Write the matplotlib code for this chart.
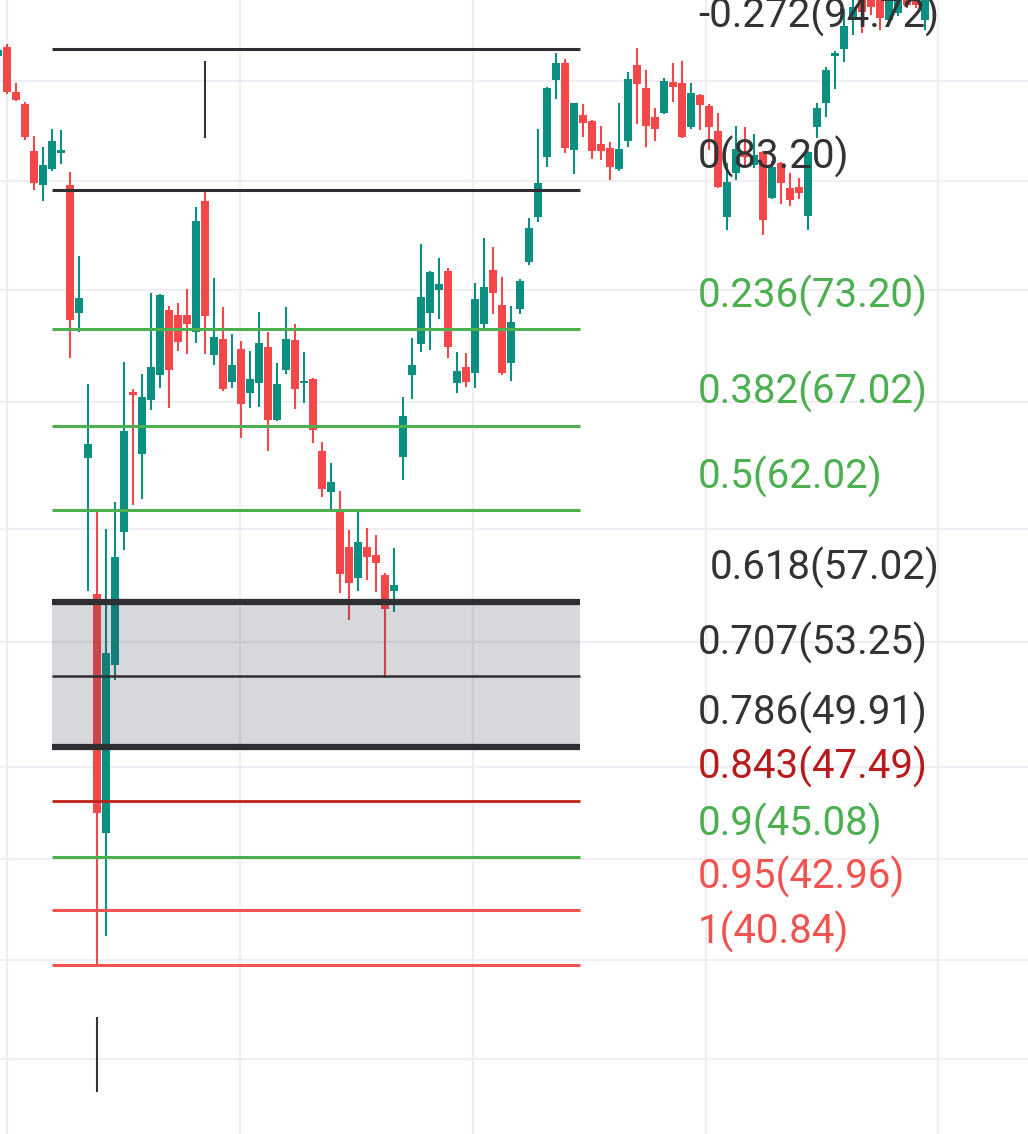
import matplotlib
matplotlib.use("Agg")
import matplotlib.pyplot as plt
from matplotlib.ticker import NullLocator, FixedLocator

# ---------------- data ----------------
opens = [94.1, 94.9, 91.0, 90.0, 86.2, 83.6, 84.8, 86.1, 83.6, 74.3,
         65.05, 57.4, 46.1, 53.8, 60.8, 69.1, 65.3, 68.6, 70.2, 74.5,
         74.2, 74.2, 73.0, 82.4, 71.5, 72.55, 69.75, 71.9, 69.05, 69.7,
         72.0, 67.35, 70.5, 72.5, 69.7, 69.95, 65.5, 63.05, 62.1, 59.95,
         58.25, 59.95, 59.5, 58.4, 57.6, 65.1, 70.2, 72.2, 74.3, 75.9,
         77.25, 69.7, 70.7, 70.35, 73.55, 77.3, 74.85, 71.0, 74.6, 77.9,
         81.15, 85.75, 92.05, 93.5, 86.3, 89.15, 88.65, 86.8, 86.45, 84.8,
         87.05, 93.3, 91.35, 89.0, 89.3, 91.9, 91.8, 88.15, 90.8, 89.9,
         87.85, 81.15, 84.5, 86.15, 85.1, 86.15, 82.6, 85.3, 83.35, 83.45,
         81.25, 88.15, 90.1, 94.1, 94.7, 97.55, 99.8, 99.6, 99.9, 97.25,
         97.9, 100.2, 100.1, 97.25]
highs = [95.1, 95.1, 91.8, 90.2, 87.4, 86.55, 88.0, 87.9, 84.6, 78.3,
         69.6, 62.1, 60.95, 62.5, 71.05, 69.3, 70.3, 75.7, 75.6, 74.8,
         75.0, 76.0, 81.9, 83.05, 76.75, 74.7, 72.9, 72.4, 71.8, 74.4,
         73.0, 71.0, 74.7, 73.55, 71.7, 70.0, 66.0, 64.75, 63.1, 60.9,
         61.9, 61.0, 60.6, 58.55, 59.9, 68.8, 72.6, 79.2, 77.25, 78.15,
         77.45, 71.7, 71.65, 76.4, 79.6, 78.95, 76.8, 74.8, 76.65, 81.1,
         88.0, 91.45, 94.35, 93.85, 90.15, 90.05, 88.75, 88.25, 86.95, 90.1,
         92.7, 94.8, 92.9, 89.7, 92.2, 93.5, 93.65, 91.8, 90.85, 90.0,
         89.3, 85.3, 88.25, 88.15, 87.6, 86.25, 85.45, 85.35, 84.5, 84.1,
         86.2, 90.1, 93.15, 94.55, 98.25, 99.5, 100.3, 100.2, 100.4, 100.3,
         100.5, 100.6, 100.5, 100.3]
lows = [93.8, 90.9, 90.3, 87.1, 83.2, 82.4, 84.7, 85.2, 71.3, 73.0,
        57.6, 40.84, 41.94, 53.05, 59.8, 62.3, 62.65, 68.0, 69.4, 68.1,
        71.8, 71.6, 72.3, 71.6, 70.85, 69.2, 69.4, 66.25, 68.1, 68.15,
        65.5, 67.3, 70.3, 68.05, 68.4, 65.95, 62.75, 62.05, 57.45, 56.05,
        57.6, 58.15, 57.5, 53.15, 56.5, 63.75, 68.65, 71.7, 71.85, 73.9,
        71.3, 69.05, 69.45, 69.35, 73.3, 74.25, 70.2, 69.8, 74.25, 77.65,
        80.8, 84.95, 90.45, 86.1, 84.45, 87.35, 85.6, 85.5, 83.95, 84.7,
        86.55, 88.4, 86.55, 87.05, 89.25, 90.2, 87.3, 88.0, 87.9, 86.3,
        83.35, 80.2, 83.95, 84.95, 84.9, 79.85, 82.5, 82.15, 82.0, 82.5,
        80.2, 87.25, 89.0, 91.3, 93.6, 95.9, 96.1, 97.7, 96.4, 97.2,
        97.6, 98.3, 98.3, 96.4]
closes = [94.6, 91.0, 90.4, 87.35, 83.7, 85.1, 87.0, 86.3, 73.85, 75.35,
          65.9, 46.95, 54.4, 59.4, 66.7, 68.9, 68.8, 70.7, 75.55, 70.5,
          72.35, 73.55, 80.9, 74.1, 72.7, 69.3, 70.85, 68.35, 69.95, 72.3,
          67.35, 69.6, 72.55, 69.3, 69.8, 66.75, 63.25, 63.65, 58.5, 58.0,
          60.2, 59.4, 59.05, 56.65, 57.9, 67.6, 70.85, 75.4, 77.15, 76.3,
          72.0, 70.45, 69.75, 75.3, 76.1, 75.7, 70.35, 73.7, 76.5, 80.35,
          83.75, 91.35, 93.5, 86.45, 90.1, 88.5, 86.25, 86.25, 84.95, 86.4,
          92.15, 91.7, 88.25, 88.0, 91.95, 91.45, 87.35, 90.95, 89.95, 88.15,
          83.45, 83.8, 86.4, 85.75, 85.9, 80.95, 84.95, 83.75, 82.45, 82.95,
          86.15, 89.7, 92.9, 94.35, 96.7, 98.45, 98.0, 98.45, 97.45, 99.9,
          100.0, 98.6, 98.6, 99.8]

fib_ratios = ["-0.272", "0", "0.236", "0.382", "0.5", "0.618", "0.707",
              "0.786", "0.843", "0.9", "0.95", "1"]
fib_prices = [94.72, 83.20, 73.20, 67.02, 62.02, 57.02, 53.25, 49.91,
              47.49, 45.08, 42.96, 40.84]

grid_prices = [91.96, 83.89, 75.9, 68.48, 60.97, 54.96, 48.98, 45.01, 41.03, 37.48]
grid_bars = [0.97, 26.86, 52.74, 78.63, 104.41]

# marker segments (bar index, low price, high price)
marker_bars = [23, 11]
marker_lo = [87.27, 36.34]
marker_hi = [93.66, 38.93]

# ---------------- styling ----------------
UP = "#0a8f80"
DOWN = "#f4474a"
DARK = "#2e2e33"
GREEN = "#4caf50"
DRED = "#c0201a"
RED = "#f05350"

line_styles = {
    "-0.272": (DARK, 2.2), "0": (DARK, 2.2),
    "0.236": (GREEN, 2.2), "0.382": (GREEN, 2.2), "0.5": (GREEN, 2.2),
    "0.618": (DARK, 4.5), "0.707": (DARK, 1.8), "0.786": (DARK, 4.5),
    "0.843": (DRED, 2.0), "0.9": (GREEN, 2.2), "0.95": (RED, 2.2), "1": (RED, 2.2),
}
label_colors = {
    "-0.272": "#333333", "0": "#333333",
    "0.236": GREEN, "0.382": GREEN, "0.5": GREEN,
    "0.618": "#333333", "0.707": "#333333", "0.786": "#333333",
    "0.843": "#b71c1c", "0.9": GREEN, "0.95": RED, "1": RED,
}

fig = plt.figure(figsize=(10.28, 11.34), dpi=100)
ax = fig.add_axes([0, 0, 1, 1])
ax.set_yscale("log")
ax.set_xlim(0.19, 114.41)
ax.set_ylim(34.97, 99.06)
fig.patch.set_facecolor("white")
ax.set_facecolor("white")

# grid
ax.yaxis.set_major_locator(FixedLocator(grid_prices))
ax.yaxis.set_minor_locator(NullLocator())
ax.xaxis.set_major_locator(FixedLocator(grid_bars))
ax.grid(True, color="#f0eef3", lw=1.6, zorder=0)
ax.tick_params(left=False, bottom=False, labelleft=False, labelbottom=False)
for s in ax.spines.values():
    s.set_visible(False)

# candles
xs = list(range(len(opens)))
for x, o, h, l, c in zip(xs, opens, highs, lows, closes):
    col = UP if c >= o else DOWN
    ax.vlines(x, l, h, color=col, lw=1.5, zorder=2)
    lo, hi = min(o, c), max(o, c)
    ax.bar(x, hi - lo, bottom=lo, width=0.86, color=col, lw=0, zorder=2)

# fib drawing
fib_start, fib_end = 5.97, 64.63
ax.fill_between([fib_start, fib_end], fib_prices[7], fib_prices[5],
                color="#3a3850", alpha=0.2, lw=0, zorder=3)
for r, p in zip(fib_ratios, fib_prices):
    col, lw = line_styles[r]
    ax.hlines(p, fib_start, fib_end, color=col, lw=lw, zorder=4)
    lx = 79.08 if r == "0.618" else 77.74
    ax.annotate(f"{r}({p:.2f})", xy=(lx, p), xytext=(0, 24.0),
                textcoords="offset points", ha="left", va="center",
                fontsize=29, family="Roboto", color=label_colors[r], zorder=5)

# vertical marker segments
for b, lo, hi in zip(marker_bars, marker_lo, marker_hi):
    ax.vlines(b, lo, hi, color="#333333", lw=1.5, zorder=4)

fig.savefig("out.png", dpi=100, facecolor="white")
